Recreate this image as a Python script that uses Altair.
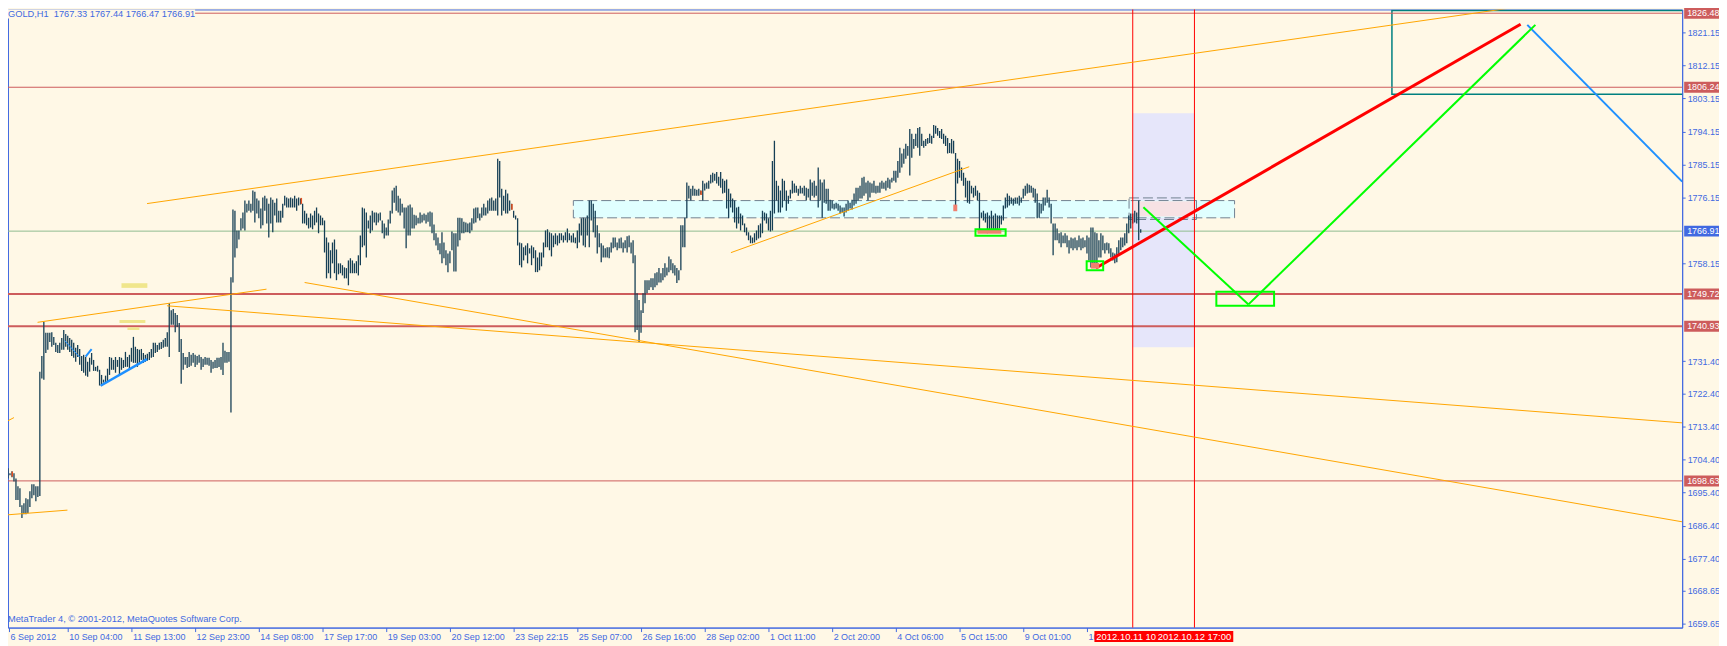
import json
import altair as alt
import pandas as pd

BG = "#FFF8E6"
FG = "#4169E1"
BAR = "#163F55"
FONT = "Liberation Sans"
W, H = 1682, 621

# hourly bar highs / lows (GOLD H1), one value per bar
high = [
1704.8,1702.3,1702.1,1700.7,1701.3,1700.7,1699.3,1697.2,1696.6,1692.0,
1692.5,1693.9,1693.6,1695.8,1697.7,1697.7,1697.2,1697.2,1728.5,1732.8,
1742.1,1739.1,1739.1,1739.1,1739.3,1738.0,1736.4,1735.8,1736.4,1737.7,
1739.9,1738.8,1738.3,1737.7,1737.2,1736.4,1735.0,1735.8,1734.7,1732.8,
1733.1,1732.5,1731.2,1732.3,1733.6,1731.7,1729.8,1730.1,1729.0,1727.6,
1726.3,1727.4,1729.3,1732.5,1732.3,1731.7,1732.5,1731.7,1732.5,1732.3,
1731.7,1733.9,1732.5,1733.1,1735.0,1738.0,1735.3,1734.7,1734.5,1734.7,
1733.6,1733.1,1733.4,1733.9,1734.7,1736.4,1736.4,1735.8,1736.4,1736.6,
1737.2,1737.7,1739.3,1747.2,1745.3,1745.6,1744.5,1744.0,1741.8,1737.4,
1733.6,1732.5,1732.5,1733.9,1733.1,1733.6,1733.1,1732.8,1733.1,1732.5,
1732.0,1732.5,1732.3,1732.3,1731.7,1731.2,1731.7,1732.3,1732.3,1732.5,
1736.4,1734.2,1733.9,1733.9,1754.3,1772.8,1772.5,1767.1,1767.1,1770.4,
1772.0,1775.3,1774.4,1775.3,1774.4,1778.0,1777.7,1775.8,1775.3,1773.1,
1776.1,1776.6,1775.8,1774.4,1776.1,1775.5,1774.7,1775.8,1772.5,1772.5,
1774.4,1776.6,1776.1,1775.8,1776.1,1775.8,1776.6,1775.8,1776.1,1775.8,
1774.4,1772.5,1771.7,1770.6,1771.7,1771.2,1772.5,1773.4,1771.7,1771.2,
1770.6,1769.8,1765.2,1763.8,1761.7,1763.8,1764.6,1761.9,1758.1,1758.1,
1757.6,1757.0,1756.8,1758.9,1759.5,1758.9,1758.1,1758.7,1760.3,1765.7,
1773.4,1773.1,1772.0,1769.8,1771.2,1772.5,1772.0,1772.0,1771.7,1772.0,
1769.8,1769.0,1767.9,1770.1,1772.5,1778.0,1778.8,1779.3,1776.6,1775.8,
1774.4,1773.4,1773.4,1773.9,1774.2,1773.4,1771.4,1771.2,1770.6,1772.0,
1771.4,1771.7,1771.4,1772.0,1772.3,1772.0,1768.7,1766.3,1765.2,1763.6,
1766.6,1763.8,1761.7,1760.8,1761.4,1766.8,1766.3,1766.3,1770.6,1770.6,
1770.4,1769.5,1769.3,1769.0,1769.3,1770.4,1773.1,1773.4,1773.4,1771.7,
1773.4,1774.4,1773.4,1775.3,1775.8,1776.1,1775.3,1775.8,1786.7,1786.1,
1778.5,1776.6,1778.2,1777.2,1775.3,1774.4,1772.5,1771.2,1770.4,1763.8,
1763.6,1762.5,1763.0,1763.6,1762.2,1763.0,1762.5,1761.7,1759.7,1761.1,
1761.1,1763.8,1767.1,1767.4,1766.6,1766.3,1765.7,1766.3,1765.7,1766.3,
1766.3,1765.7,1766.6,1767.6,1766.3,1765.7,1766.3,1765.2,1767.1,1769.0,
1770.4,1770.6,1770.4,1771.2,1775.3,1775.3,1774.4,1772.5,1768.5,1766.3,
1763.6,1763.0,1762.2,1762.5,1762.5,1763.8,1765.2,1765.2,1763.8,1764.9,
1765.2,1763.8,1764.4,1765.5,1765.7,1763.8,1764.4,1760.3,1749.9,1748.1,
1745.3,1749.9,1753.5,1753.5,1753.5,1754.0,1754.0,1755.4,1755.7,1756.8,
1755.4,1756.8,1758.1,1757.0,1760.0,1759.2,1758.1,1757.6,1756.8,1756.2,
1768.5,1768.5,1770.6,1780.2,1779.3,1778.5,1779.3,1778.5,1778.2,1778.5,
1778.0,1780.7,1779.9,1780.2,1780.7,1782.3,1782.9,1782.6,1783.1,1781.8,
1783.1,1781.2,1780.7,1781.0,1778.5,1777.2,1775.8,1775.3,1773.4,1773.6,
1771.7,1771.2,1769.0,1767.9,1766.6,1765.7,1765.2,1766.3,1767.1,1768.5,
1769.0,1772.5,1772.0,1771.7,1770.4,1772.5,1786.1,1791.6,1780.7,1779.3,
1778.0,1781.2,1780.7,1778.0,1776.6,1778.2,1780.7,1779.9,1779.3,1778.5,
1779.3,1778.8,1779.3,1778.8,1778.5,1781.0,1780.2,1780.7,1779.3,1784.3,
1781.0,1780.2,1781.0,1778.5,1778.5,1775.5,1775.3,1774.4,1774.7,1774.4,
1773.9,1773.4,1773.4,1774.4,1775.3,1774.7,1775.5,1777.2,1778.8,1778.8,
1779.3,1781.5,1781.8,1780.2,1780.7,1780.2,1779.9,1780.7,1779.3,1779.3,
1780.2,1780.7,1780.2,1780.7,1781.5,1781.0,1781.5,1783.4,1783.4,1786.1,
1789.7,1788.1,1789.4,1790.8,1790.2,1794.8,1793.5,1792.1,1793.5,1795.1,
1795.4,1793.5,1791.6,1792.1,1792.4,1793.5,1793.0,1795.9,1795.7,1795.1,
1794.3,1794.8,1793.5,1793.0,1792.4,1791.0,1792.1,1791.6,1788.3,1786.7,
1786.1,1784.3,1782.9,1781.5,1780.7,1780.7,1779.3,1778.8,1779.3,1778.0,
1777.4,1772.0,1772.5,1771.7,1772.0,1771.2,1772.5,1771.2,1771.7,1771.2,
1771.2,1771.2,1773.9,1776.1,1777.2,1776.6,1776.1,1775.8,1776.1,1776.1,
1776.6,1776.1,1778.5,1779.3,1779.9,1779.6,1779.3,1778.8,1778.5,1777.2,
1774.7,1774.4,1776.1,1776.1,1778.2,1776.1,1774.4,1769.0,1769.0,1767.6,
1766.3,1766.6,1765.7,1766.3,1765.7,1764.4,1765.2,1764.9,1765.2,1764.4,
1765.7,1764.9,1765.2,1764.4,1765.7,1765.2,1767.9,1767.9,1766.6,1766.3,
1764.4,1766.3,1765.7,1763.6,1763.8,1763.6,1762.2,1761.1,1760.8,1762.5,
1764.4,1765.2,1765.2,1766.3,1769.0,1771.2,1771.7,1771.7,1772.5,1772.0,
1775.3,1767.44,
]
low = [
1701.5,1699.9,1699.3,1700.2,1699.6,1698.5,1693.4,1693.4,1691.5,1688.5,
1689.5,1689.5,1689.8,1691.5,1693.9,1694.7,1693.1,1694.2,1694.5,1726.6,
1726.3,1733.6,1734.5,1736.6,1735.3,1735.8,1733.9,1733.6,1733.6,1734.5,
1734.5,1735.3,1734.5,1733.9,1732.8,1732.3,1731.2,1732.5,1730.4,1728.7,
1728.2,1727.4,1727.1,1728.5,1730.4,1728.7,1728.7,1728.5,1724.7,1724.7,
1725.5,1725.5,1725.7,1727.6,1729.0,1729.0,1728.2,1729.8,1727.6,1729.0,
1729.5,1729.8,1729.8,1729.0,1731.2,1730.9,1730.9,1729.8,1730.9,1731.7,
1730.9,1731.2,1731.5,1731.7,1732.3,1732.5,1733.6,1733.9,1734.5,1734.7,
1735.0,1735.3,1735.3,1732.5,1741.3,1741.3,1739.3,1740.7,1733.9,1725.2,
1729.0,1730.4,1729.5,1729.8,1730.1,1730.9,1729.8,1730.4,1730.9,1729.0,
1729.8,1730.4,1730.4,1730.1,1728.2,1729.3,1729.5,1729.5,1729.8,1729.0,
1727.6,1730.9,1730.9,1731.2,1717.3,1752.9,1759.7,1762.2,1764.6,1767.1,
1767.6,1767.1,1772.0,1772.5,1772.0,1772.5,1769.3,1771.7,1770.4,1767.6,
1768.5,1772.5,1769.0,1765.2,1769.0,1766.6,1771.2,1769.3,1769.3,1769.3,
1770.6,1773.9,1773.4,1773.4,1773.4,1773.4,1773.4,1772.5,1773.9,1774.2,
1769.0,1769.0,1768.5,1767.6,1767.9,1767.4,1768.5,1769.3,1766.3,1768.5,
1768.5,1761.1,1754.0,1755.4,1754.0,1758.1,1755.4,1753.5,1755.1,1755.4,
1754.8,1754.0,1754.0,1752.1,1755.4,1755.4,1755.4,1755.4,1754.8,1757.6,
1762.5,1763.0,1759.7,1767.6,1766.3,1767.1,1769.3,1768.5,1769.3,1769.8,
1766.3,1764.9,1765.7,1765.7,1769.0,1771.7,1774.7,1772.5,1772.0,1771.2,
1772.0,1767.6,1762.2,1765.7,1765.7,1767.6,1767.6,1768.5,1769.0,1769.0,
1769.3,1769.8,1769.0,1769.5,1768.2,1766.3,1764.4,1763.0,1761.7,1760.6,
1758.1,1759.5,1757.6,1755.7,1758.1,1761.7,1755.9,1755.9,1762.7,1764.4,
1766.3,1766.3,1766.6,1766.6,1766.3,1767.1,1769.0,1769.3,1770.4,1769.8,
1770.6,1771.2,1771.2,1771.7,1772.5,1772.5,1772.5,1772.5,1771.2,1776.1,
1771.2,1772.5,1771.7,1771.7,1772.5,1772.8,1770.6,1770.1,1763.0,1757.6,
1757.0,1758.9,1760.3,1758.1,1760.8,1757.6,1759.5,1755.7,1755.7,1756.2,
1757.3,1759.7,1762.5,1762.5,1761.7,1760.0,1762.5,1763.3,1763.0,1763.6,
1764.4,1763.8,1764.4,1763.8,1764.4,1763.8,1763.8,1763.6,1762.2,1763.8,
1765.7,1763.0,1762.5,1765.7,1762.5,1769.8,1766.6,1765.2,1760.8,1762.5,
1758.4,1759.7,1759.7,1759.7,1759.5,1761.1,1762.2,1762.5,1761.7,1762.2,
1762.2,1761.1,1762.2,1761.1,1762.5,1760.8,1758.1,1739.3,1739.9,1736.6,
1739.1,1744.5,1747.2,1749.9,1750.8,1751.6,1750.8,1751.6,1752.1,1752.9,
1752.9,1753.5,1754.3,1754.8,1755.7,1756.2,1755.4,1754.8,1752.7,1753.5,
1756.2,1762.5,1762.5,1770.4,1775.8,1775.3,1776.6,1776.6,1776.6,1776.6,
1776.9,1775.3,1778.0,1778.5,1778.5,1779.9,1780.2,1780.7,1779.9,1779.3,
1778.8,1777.2,1777.4,1773.1,1770.4,1773.4,1772.0,1769.3,1767.6,1769.0,
1767.1,1768.5,1766.6,1765.7,1764.4,1763.6,1763.6,1763.8,1764.4,1764.9,
1765.2,1766.3,1769.8,1769.0,1767.1,1766.8,1767.1,1771.7,1775.3,1772.0,
1772.0,1773.4,1775.3,1772.5,1774.4,1775.8,1777.2,1777.4,1777.4,1776.6,
1777.2,1777.2,1776.6,1775.3,1776.1,1775.3,1776.6,1776.1,1776.6,1773.4,
1775.3,1770.6,1774.7,1774.4,1772.5,1772.5,1773.1,1772.8,1773.1,1772.5,
1771.7,1772.0,1770.9,1772.0,1772.5,1773.1,1772.8,1773.9,1774.4,1775.3,
1775.8,1775.8,1776.6,1777.2,1775.3,1776.1,1777.4,1777.4,1777.2,1777.4,
1777.4,1778.5,1778.5,1778.0,1778.8,1778.5,1780.2,1780.7,1780.2,1781.5,
1782.9,1784.3,1785.3,1786.7,1787.5,1782.1,1787.0,1789.4,1790.2,1789.7,
1787.5,1790.2,1789.7,1790.2,1790.8,1791.0,1790.8,1792.4,1793.5,1793.0,
1792.4,1792.1,1790.8,1790.2,1788.1,1788.3,1788.1,1788.1,1772.5,1779.9,
1781.5,1780.7,1779.3,1776.1,1774.7,1774.4,1777.2,1776.1,1776.6,1775.3,
1767.1,1770.4,1769.8,1769.3,1766.3,1766.6,1766.6,1766.6,1767.1,1766.6,
1767.6,1768.7,1769.8,1773.1,1773.4,1773.9,1774.4,1773.9,1774.4,1774.4,
1773.9,1774.7,1775.8,1776.6,1777.2,1777.4,1777.4,1776.1,1774.7,1770.4,
1770.6,1771.7,1772.5,1773.9,1774.7,1773.4,1769.0,1760.3,1764.4,1764.4,
1763.6,1762.5,1763.6,1763.6,1762.5,1760.8,1762.2,1761.7,1762.2,1761.7,
1762.5,1761.7,1762.2,1762.5,1760.8,1758.9,1757.0,1758.1,1757.0,1758.1,
1759.7,1759.7,1761.7,1760.8,1761.7,1760.8,1759.7,1758.9,1758.1,1758.4,
1760.3,1761.7,1762.5,1763.0,1763.6,1766.3,1767.6,1769.0,1769.3,1769.0,
1764.4,1766.47,
]

x_tick_idx = [2.5, 32, 64, 96, 128, 160, 192, 224, 256, 288, 320, 352, 384, 416, 448, 480, 512, 544]
x_tick_labels = ["6 Sep 2012", "10 Sep 04:00", "11 Sep 13:00", "12 Sep 23:00", "14 Sep 08:00",
                 "17 Sep 17:00", "19 Sep 03:00", "20 Sep 12:00", "23 Sep 22:15", "25 Sep 07:00",
                 "26 Sep 16:00", "28 Sep 02:00", "1 Oct 11:00", "2 Oct 20:00", "4 Oct 06:00",
                 "5 Oct 15:00", "9 Oct 01:00", "10 Oct 10:00"]
y_tick_values = [1821.15, 1812.15, 1803.15, 1794.15, 1785.15, 1776.15, 1758.15, 1731.40,
                 1722.40, 1713.40, 1704.40, 1695.40, 1686.40, 1677.40, 1668.65, 1659.65]

level_prices = [1826.48, 1806.24, 1749.72, 1740.93, 1698.63]
level_widths = [1, 1, 2, 2, 1]
bid_price = 1766.91
tag_prices = [1826.48, 1806.24, 1766.91, 1749.72, 1740.93, 1698.63]
tag_colors = ["#CD5C5C", "#CD5C5C", FG, "#CD5C5C", "#CD5C5C", "#CD5C5C"]
vline_idx = [567.0, 598.0]
vline_labels = ["2012.10.11 10:00", "2012.10.12 17:00"]
vline_lo_off = [19.25, 19.25]
vline_hi_off = [19.25, 19.5]

# trend line segments (bar index, price)
seg_x1 = [71.85, 16.85, 81.85, 151.0, 365.15, 0.0, 0.0, 48.5, 30.5, 41.0, 765.2, 548.5, 572.35, 625.15]
seg_p1 = [1774.44, 1741.98, 1746.50, 1752.87, 1761.03, 1689.28, 1714.50, 1724.65, 1736.97, 1732.62, 1823.29, 1756.84, 1773.44, 1746.88]
seg_x2 = [760.7, 131.85, 843.0, 843.0, 484.85, 31.85, 5.0, 71.85, 38.0, 44.0, 843.0, 761.85, 625.15, 769.25]
seg_p2 = [1828.21, 1751.04, 1714.50, 1687.45, 1784.51, 1690.64, 1715.94, 1731.91, 1732.46, 1734.63, 1780.43, 1823.45, 1746.88, 1823.29]
seg_color = ["#FFA500"] * 7 + ["#1E90FF"] * 4 + ["#FF0000", "#00FF00", "#00FF00"]
seg_width = [1, 1, 1, 1, 1, 1, 1, 2.5, 1, 2, 2, 3, 2, 2]

# rectangles (bar index range, price range)
lav = dict(x1=[567.0], x2=[598.0], p1=[1799.12], p2=[1735.18])
cyan = dict(x1=[286.0], x2=[618.15], p1=[1775.26], p2=[1770.55])
pink = dict(x1=[567.5], x2=[598.0], p1=[1775.07], p2=[1770.91])
dash2 = dict(x1=[565.15], x2=[599.0], p1=[1775.99], p2=[1770.09])
teal = dict(x1=[697.2], x2=[850.0], p1=[1827.2], p2=[1804.35])
grn = dict(x1=[609.0, 488.0, 543.85], x2=[638.0, 503.15, 552.15], p1=[1750.31, 1767.45, 1758.66], p2=[1746.50, 1765.66, 1756.21])
salm = dict(x1=[489.0, 546.0, 476.85], x2=[501.0, 550.15, 478.85], p1=[1767.29, 1758.2, 1774.17], p2=[1766.20, 1756.67, 1772.35])
khaki = dict(x1=[59.0, 58.0, 62.0], x2=[72.0, 71.0, 68.0], p1=[1752.67, 1742.61, 1740.62], p2=[1751.40, 1741.79, 1739.89])
mark_ix = [4.15, 149.35, 255.15, 350.15]
mark_p1 = [1701.17, 1775.99, 1774.36, 1777.98]
mark_p2 = [1699.81, 1774.36, 1772.73, 1776.81]

header = "GOLD,H1 \u00a01767.33 1767.44 1766.47 1766.91"
copyright_txt = "MetaTrader 4, \u00a9 2001-2012, MetaQuotes Software Corp."

xs = alt.Scale(domain=[2.0, 843.0], nice=False, zero=False)
ys = alt.Scale(domain=[1658.53, 1827.50], nice=False, zero=False)

label_expr = json.dumps(x_tick_labels) + "[round(datum.value / 32)]"
xaxis = alt.Axis(values=x_tick_idx, labelExpr=label_expr, title="", grid=False,
                 domainColor=FG, tickColor=FG, labelColor=FG, labelFont=FONT, labelFontSize=9,
                 labelAlign="left", labelBaseline="top", labelPadding=1, tickSize=4,
                 labelOverlap=False, labelBound=False, labelFlush=False, labelOffset=1)
yaxis = alt.Axis(orient="right", values=y_tick_values, format=".2f", title="", grid=False,
                 domainColor=FG, tickColor=FG, labelColor=FG, labelFont=FONT, labelFontSize=9,
                 labelAlign="left", labelBaseline="middle", labelPadding=2, tickSize=3,
                 labelOverlap=False, labelBound=False, labelFlush=False)


def X(f):
    return alt.X(f, type="quantitative", scale=xs, axis=xaxis)


def Y(f):
    return alt.Y(f, type="quantitative", scale=ys, axis=yaxis)


def rect_layer(d, **mk):
    return alt.Chart(pd.DataFrame(d)).mark_rect(**mk).encode(
        x=X("x1"), x2=alt.X2("x2"), y=Y("p1"), y2=alt.Y2("p2"))


n = min(len(high), len(low))
bars = pd.DataFrame({"i": list(range(n)), "high": high[:n], "low": low[:n]})

layers = []
layers.append(rect_layer(lav, fill="#E6E6FA"))
layers.append(rect_layer(cyan, fill="#E0FFFF", stroke="#708090", strokeWidth=1, strokeDash=[10, 4]))
layers.append(rect_layer(pink, fill="#F7E2E4"))
layers.append(rect_layer(dash2, filled=False, stroke="#708090", strokeWidth=1, strokeDash=[10, 4]))
layers.append(rect_layer(teal, filled=False, stroke="#008080", strokeWidth=1.5, clip=True))

lv = pd.DataFrame({"p": level_prices, "w": level_widths})
layers.append(alt.Chart(lv).mark_rule(color="#CD5C5C").encode(
    y=Y("p"), strokeWidth=alt.StrokeWidth("w:Q", scale=None)))
layers.append(alt.Chart(pd.DataFrame({"p": [bid_price]})).mark_rule(color="#8FBC8F", strokeWidth=1).encode(y=Y("p")))
layers.append(rect_layer(khaki, fill="#F0E68C"))

layers.append(alt.Chart(bars).mark_rule(color=BAR, strokeWidth=1.3, clip=True).encode(
    x=X("i"), y=Y("low"), y2=alt.Y2("high")))

layers.append(alt.Chart(pd.DataFrame({"ix": vline_idx})).mark_rule(color="#FF0000", strokeWidth=1).encode(x=X("ix")))

segs = pd.DataFrame({"x1": seg_x1, "p1": seg_p1, "x2": seg_x2, "p2": seg_p2, "c": seg_color, "w": seg_width})
layers.append(alt.Chart(segs).mark_rule(clip=True).encode(
    x=X("x1"), x2=alt.X2("x2"), y=Y("p1"), y2=alt.Y2("p2"),
    color=alt.Color("c:N", scale=None), strokeWidth=alt.StrokeWidth("w:Q", scale=None)))

layers.append(rect_layer(salm, fill="#F08070"))
layers.append(rect_layer(grn, filled=False, stroke="#00FF00", strokeWidth=2))
mk = pd.DataFrame({"ix": mark_ix, "p1": mark_p1, "p2": mark_p2})
layers.append(alt.Chart(mk).mark_rule(color="#E8501E", strokeWidth=1.5).encode(
    x=X("ix"), y=Y("p1"), y2=alt.Y2("p2")))

# header text with background
hd = pd.DataFrame({"t": [header]})
layers.append(alt.Chart(hd).mark_rect(fill=BG).encode(
    x=alt.value(0), x2=alt.value(188), y=alt.value(0), y2=alt.value(9)))
layers.append(alt.Chart(hd).mark_text(align="left", baseline="middle", font=FONT, fontSize=9.3, color=FG).encode(
    x=alt.value(0), y=alt.value(4.5), text="t:N"))
layers.append(alt.Chart(pd.DataFrame({"t": [copyright_txt]})).mark_text(
    align="left", baseline="middle", font=FONT, fontSize=9.3, color=FG).encode(
    x=alt.value(0), y=alt.value(612), text="t:N"))

# price tags on right axis
tg = pd.DataFrame({"p": tag_prices, "c": tag_colors, "label": [f"{p:.2f}" for p in tag_prices]})
layers.append(alt.Chart(tg).mark_rule(strokeWidth=11).encode(
    x=alt.value(W + 2), x2=alt.value(W + 45), y=Y("p"), color=alt.Color("c:N", scale=None)))
layers.append(alt.Chart(tg).mark_text(align="left", baseline="middle", font=FONT, fontSize=9, color="white").encode(
    x=alt.value(W + 5), y=Y("p"), text="label:N"))

# date tags for the vertical lines
for ix, lab, lo, hi in zip(vline_idx, vline_labels, vline_lo_off, vline_hi_off):
    dd = pd.DataFrame({"ix": [ix], "label": [lab], "lo_off": [lo], "hi_off": [hi]})
    base = alt.Chart(dd).transform_calculate(lo="datum.ix - datum.lo_off", hi="datum.ix + datum.hi_off")
    layers.append(base.mark_rule(strokeWidth=11, color="#FF0000").encode(
        x=X("lo:Q"), x2=alt.X2("hi:Q"), y=alt.value(H + 9)))
    layers.append(alt.Chart(dd).mark_text(align="center", baseline="middle", font=FONT, fontSize=9.5, color="white").encode(
        x=X("ix"), y=alt.value(H + 9), text="label:N"))

chart = alt.layer(*layers).properties(
    width=W, height=H, background=BG,
    padding={"left": 0, "top": 0, "right": 37, "bottom": 17},
    autosize=alt.AutoSizeParams(type="none"),
).configure_view(stroke=FG, strokeWidth=1, fill=BG)

chart.save("out.html", embed_options={"renderer": "svg", "actions": False})
